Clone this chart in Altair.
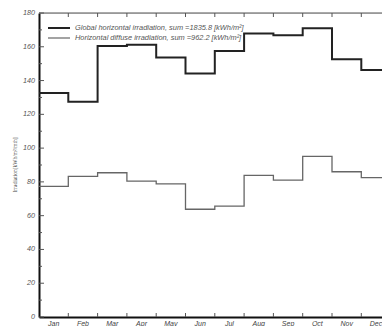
import altair as alt
import pandas as pd

months = ["Jan", "Feb", "Mar", "Apr", "May", "Jun", "Jul", "Aug", "Sep", "Oct", "Nov", "Dec"]
global_irr = [132.6, 127.4, 160.4, 161.2, 153.6, 144.2, 157.5, 167.9, 166.8, 171.0, 152.6, 146.2]
diffuse_irr = [77.3, 83.3, 85.4, 80.4, 78.8, 63.8, 65.6, 83.9, 81.0, 95.1, 86.0, 82.5]
series_names = ["Global horizontal irradiation, sum =1835.8 [kWh/m²]",
                "Horizontal diffuse irradiation, sum =962.2 [kWh/m²]"]
y_label_values = list(range(0, 181, 20))
y_minor_values = list(range(10, 181, 20))
y_title = "Irradiation[kWh/m²/mth]"

W, H = 343, 304
PPM = 29.3
XMAX = W / PPM

rows = []
for s, vals in zip(series_names, [global_irr, diffuse_irr]):
    for i, v in enumerate(vals):
        rows.append({"series": s, "x": i, "v": v, "order": 2 * i})
        rows.append({"series": s, "x": i + 1, "v": v, "order": 2 * i + 1})
df = pd.DataFrame(rows)

xs = alt.Scale(domain=[0, XMAX], nice=False, zero=False)
ys = alt.Scale(domain=[0, 180], nice=False)

ax_x = alt.Axis(labels=False, ticks=False, grid=False, title=None,
                domainColor="#111", domainWidth=2)
ax_y = alt.Axis(labels=False, ticks=False, grid=False, title=None,
                domainColor="#111", domainWidth=2)

g = df[df.series == series_names[0]]
d = df[df.series == series_names[1]]

line_g = alt.Chart(g).mark_line(color="#222", strokeWidth=2, clip=True).encode(
    x=alt.X("x:Q", scale=xs, axis=ax_x), y=alt.Y("v:Q", scale=ys, axis=ax_y),
    order="order:Q")
line_d = alt.Chart(d).mark_line(color="#666", strokeWidth=1.3, clip=True).encode(
    x=alt.X("x:Q", scale=xs, axis=ax_x), y=alt.Y("v:Q", scale=ys, axis=ax_y),
    order="order:Q")

bounds = pd.DataFrame({"b": list(range(1, 13))})
top_ticks = alt.Chart(bounds).mark_rule(color="#555", strokeWidth=1, clip=True).encode(
    x=alt.X("b:Q", scale=xs, axis=ax_x), y=alt.value(0), y2=alt.value(4))
bot_ticks = alt.Chart(bounds).mark_rule(color="#555", strokeWidth=1, clip=True).encode(
    x=alt.X("b:Q", scale=xs, axis=ax_x), y=alt.value(H - 4), y2=alt.value(H))

major = pd.DataFrame({"t": y_label_values})
minor = pd.DataFrame({"t": y_minor_values})
left_major = alt.Chart(major).mark_rule(color="#555", strokeWidth=1).encode(
    y=alt.Y("t:Q", scale=ys, axis=ax_y), x=alt.value(0), x2=alt.value(5))
left_minor = alt.Chart(minor).mark_rule(color="#555", strokeWidth=1).encode(
    y=alt.Y("t:Q", scale=ys, axis=ax_y), x=alt.value(0), x2=alt.value(3))

y_labels = alt.Chart(major).mark_text(
    align="right", baseline="middle", font="Liberation Sans", fontStyle="italic",
    fontSize=7.2, color="#555").encode(
    y=alt.Y("t:Q", scale=ys, axis=ax_y), x=alt.value(-4), text="t:Q")

mdf = pd.DataFrame({"m": months, "c": [i + 0.5 for i in range(12)]})
x_labels = alt.Chart(mdf).mark_text(
    align="center", baseline="top", font="Liberation Sans", fontStyle="italic",
    fontSize=7, color="#444").encode(
    x=alt.X("c:Q", scale=xs, axis=ax_x), y=alt.value(H + 2.5), text="m:N")

tdf = pd.DataFrame({"t": [y_title]})
y_title_mark = alt.Chart(tdf).mark_text(
    angle=270, align="center", baseline="middle", font="Liberation Serif",
    fontSize=5.5, color="#444").encode(
    x=alt.value(-24), y=alt.value(H / 2), text="t:N")

leg = pd.DataFrame({"name": series_names, "k": [0, 1]})
leg_g = alt.Chart(leg[leg.k == 0]).mark_rule(color="#222", strokeWidth=2).encode(
    x=alt.value(9), x2=alt.value(31), y=alt.value(15))
leg_d = alt.Chart(leg[leg.k == 1]).mark_rule(color="#666", strokeWidth=1.2).encode(
    x=alt.value(9), x2=alt.value(31), y=alt.value(25))
leg_t0 = alt.Chart(leg[leg.k == 0]).mark_text(
    align="left", baseline="middle", font="Liberation Sans", fontStyle="italic",
    fontSize=7.4, color="#555").encode(x=alt.value(36), y=alt.value(15), text="name:N")
leg_t1 = alt.Chart(leg[leg.k == 1]).mark_text(
    align="left", baseline="middle", font="Liberation Sans", fontStyle="italic",
    fontSize=7.4, color="#555").encode(x=alt.value(36), y=alt.value(25), text="name:N")

top_line = alt.Chart(leg[leg.k == 0]).mark_rule(color="#555", strokeWidth=1.2).encode(
    x=alt.value(0), x2=alt.value(W), y=alt.value(0))

chart = alt.layer(
    line_g, line_d, top_ticks, bot_ticks, left_major, left_minor, top_line,
    y_labels, x_labels, y_title_mark, leg_g, leg_d, leg_t0, leg_t1
).properties(
    width=W, height=H,
    autosize=alt.AutoSizeParams(type="none"),
    padding={"left": 31, "top": 5, "right": 0, "bottom": 9},
).configure_view(stroke=None).configure(background="white")

chart.save("out.html", embed_options={"renderer": "svg", "actions": False})
